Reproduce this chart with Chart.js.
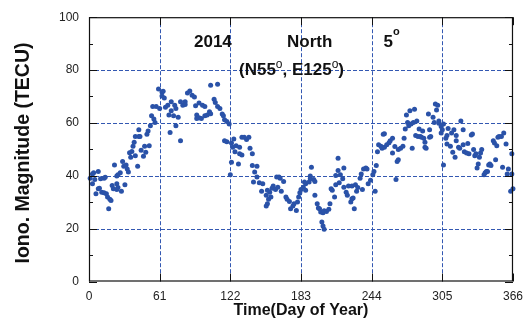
<!DOCTYPE html>
<html>
<head>
<meta charset="utf-8">
<script src="https://cdn.jsdelivr.net/npm/chart.js@4/dist/chart.umd.min.js"></script>
<style>
  html, body { margin: 0; padding: 0; background: #ffffff; }
  #wrap { width: 531px; height: 331px; }
</style>
</head>
<body>
<div id="wrap"><canvas id="c" width="531" height="331"></canvas></div>
<script>
// Daily ionospheric TEC magnitude, 2014, northern station (N55°, E125°), 5° elevation
const days = [
  1,3,4,8,3,5,10,13,14,6, 8,9,11,13,15,16,18,19,17,20, 21,24,25,24,28,31,22,24,25,27,
  29,30,32,33,34,42,35,36,37,38, 39,40,43,44,43,40,45,47,48,49, 50,51,52,53,54,56,57,55,58,60,
  61,63,63,64,65,66,68,69,70,71, 71,73,74,75,75,77,79,79,81,83, 83,85,87,
  89,91,92,95,98,100,93,93,95,97, 100,102,104,105,105,108,109,111,111,113,
  115,116,117,119,121,117,119,123,125,124, 126,127,130,132,134,136,138,130,132,139,
  141,123,129,122,141,145,143,145,142,147, 150,149,153,154,156,158,159,161,162,164,
  165,168,157,155,154,153,163,166,170,171, 173,174,176,177,179,
  180,181,182,183,185,186,187,187,190,191, 191,192,194,195,195,197,198,199,200,201,
  202,203,202,203,205,207,208,209,210,212, 213,213,215,215,216,217,219,220,220,222,
  223,224,226,227,228,227,229,230,231,232, 234,235,236,237,239,240,241,243,245,246,
  247,248,249,250,252,253,254,255,255,257, 259,260,262,262,264,265,266,267,
  267,269,271,272,273,274,275,276,277,278, 279,280,281,282,283,284,285,286,287,288,
  289,290,290,291,293,294,294,295,297,298, 299,300,301,302,302,304,304,305,306,306,
  308,309,309,310,312,313,314,315,316,317, 317,319,320,321,323,323,324,326,327,328,
  330,331,332,333,334,335,336,337,338,339, 341,342,343,344,345,346,347,349,350,351,
  352,353,354,356,357,358,360,361,362,364, 365,365,366
];
const tec = [
  39.1,40.7,41.1,41.6,37.0,38.6,38.9,39.1,39.4,33.2, 35.1,35.3,33.8,33.6,33.2,32.0,31.1,30.6,27.5,36.3,
  35.1,37.0,35.6,34.8,34.1,36.6,44.1,39.9,40.4,41.1, 45.4,43.6,44.1,42.6,41.4,43.6,48.7,47.0,49.2,51.2,
  52.7,54.9,54.9,54.9,57.4,47.6,49.7,47.4,51.2,48.9, 55.7,56.9,51.4,58.9,62.7,61.5,60.2,66.2,66.2,72.8,
  65.5,71.7,70.2,72.0,69.4,65.9,66.7,63.0,56.4,68.0, 64.6,62.7,66.7,65.5,58.9,62.1,68.0,53.3,66.7,68.0,
  67.0,71.3,72.1,
  70.5,69.8,66.5,67.5,66.7,66.2,63.0,61.7,62.0,61.7, 62.7,63.0,64.2,74.3,63.5,69.0,67.7,74.6,66.2,65.5,
  63.4,62.7,61.2,60.5,59.6,53.3,52.9,52.4,53.9,50.8, 49.1,51.4,50.8,54.6,54.6,53.7,54.6,48.3,47.9,50.4,
  48.3,45.1,44.5,40.4,43.9,43.6,41.4,39.5,37.6,37.4, 37.0,34.1,32.6,34.5,33.8,35.3,36.1,34.8,39.5,39.5,
  39.1,37.8,32.0,31.1,29.4,28.6,35.7,34.1,32.0,31.1, 30.3,27.5,28.6,29.4,26.9,
  30.1,32.0,33.6,34.8,35.7,37.6,37.0,34.5,37.6,39.9, 38.9,43.2,38.6,37.8,32.6,29.4,27.8,27.5,26.3,22.5,
  21.0,19.8,26.0,26.8,26.5,27.3,29.4,35.1,34.5,32.0, 36.6,40.1,42.0,46.6,37.4,40.4,38.9,42.9,35.7,33.8,
  32.6,36.1,30.1,31.3,31.6,36.1,27.5,36.6,34.1,35.6, 39.1,40.7,34.8,42.6,42.9,42.6,37.0,38.3,40.4,41.6,
  34.1,43.9,49.1,51.7,51.2,50.4,55.7,55.9,50.8,51.7, 52.5,53.3,54.2,48.6,51.1,38.6,45.4,46.1,
  49.9,50.4,51.2,54.2,57.7,63.0,60.2,58.9,64.6,59.6, 50.4,60.2,65.2,55.2,60.7,54.9,57.7,54.9,54.6,56.9,
  54.2,50.8,52.7,50.4,63.4,57.4,54.6,54.9,62.1,60.2, 67.2,64.9,66.7,60.7,59.9,58.6,56.2,57.4,59.6,44.1,
  54.2,55.2,52.0,57.9,51.2,56.2,48.9,57.4,47.0,55.2, 53.3,50.8,50.4,60.7,57.4,51.7,49.1,48.6,52.2,48.3,
  55.4,55.8,49.9,47.6,48.3,42.9,44.5,47.0,48.6,49.9, 40.4,41.1,41.6,41.6,44.1,44.5,43.9,53.3,52.4,46.1,
  51.4,54.6,54.9,54.9,43.2,56.2,52.0,40.7,42.6,34.1, 48.3,40.7,35.1
];

const xTicks = [0, 61, 122, 183, 244, 305, 366];
const yTicks = [0, 20, 40, 60, 80, 100];
const yMinorTicks = [10, 30, 50, 70, 90];

const FONT = '"Liberation Sans", Arial, Helvetica, sans-serif';
const DOT = '#2a52a8';
const GRID = '#3358b2';

const points = days.map((d, i) => ({ x: d, y: tec[i] }));

function seg(ctx, x1, y1, x2, y2) {
  ctx.beginPath(); ctx.moveTo(x1, y1); ctx.lineTo(x2, y2); ctx.stroke();
}

// text followed by raised small "o" marks (degree signs)
function supText(ctx, parts, x, y, mainFont, supFont, rise) {
  let cx = x;
  parts.forEach(p => {
    ctx.font = p.sup ? supFont : mainFont;
    ctx.fillText(p.t, cx, p.sup ? y - rise : y);
    cx += ctx.measureText(p.t).width;
  });
}

const decor = {
  id: 'decor',
  beforeDatasetsDraw(chart) {
    const { ctx, chartArea: a, scales: { x, y } } = chart;
    ctx.save();
    ctx.strokeStyle = GRID;
    ctx.lineWidth = 1;
    ctx.setLineDash([4, 2]);
    xTicks.slice(1, -1).forEach(v => {
      const px = Math.round(x.getPixelForValue(v)) + 0.5;
      seg(ctx, px, a.top, px, a.bottom);
    });
    yTicks.slice(1, -1).forEach(v => {
      const py = Math.round(y.getPixelForValue(v)) + 0.5;
      seg(ctx, a.left, py, a.right, py);
    });
    ctx.restore();
  },
  afterDraw(chart) {
    const { ctx, chartArea: a, scales: { x, y } } = chart;
    ctx.save();
    // frame
    ctx.strokeStyle = '#111';
    ctx.lineWidth = 1.2;
    ctx.strokeRect(a.left + 0.5, a.top + 0.5, a.right - a.left - 1, a.bottom - a.top - 1);
    // inward tick marks
    ctx.lineWidth = 1;
    yTicks.forEach(v => {
      const py = Math.round(y.getPixelForValue(v)) + 0.5;
      seg(ctx, a.left, py, a.left + 8, py);
      seg(ctx, a.right, py, a.right - 8, py);
    });
    yMinorTicks.forEach(v => {
      const py = Math.round(y.getPixelForValue(v)) + 0.5;
      seg(ctx, a.left, py, a.left + 4, py);
      seg(ctx, a.right, py, a.right - 4, py);
    });
    xTicks.forEach(v => {
      const px = Math.round(x.getPixelForValue(v)) + 0.5;
      seg(ctx, px, a.bottom, px, a.bottom - 8);
      seg(ctx, px, a.top, px, a.top + 8);
    });

    // axis titles
    ctx.fillStyle = '#111';
    ctx.textBaseline = 'alphabetic';
    ctx.textAlign = 'center';
    ctx.font = 'bold 16px ' + FONT;
    ctx.fillText('Time(Day of Year)', (a.left + a.right) / 2, 315);

    ctx.save();
    ctx.translate(29, 153);
    ctx.rotate(-Math.PI / 2);
    ctx.font = 'bold 19.5px ' + FONT;
    ctx.fillText('Iono. Magnitude (TECU)', 0, 0);
    ctx.restore();

    // annotations
    ctx.textAlign = 'left';
    const main = 'bold 17px ' + FONT;
    ctx.font = main;
    ctx.fillText('2014', 194, 47);
    ctx.fillText('North', 287, 47);
    supText(ctx, [{ t: '5' }, { t: 'o', sup: true }], 383.5, 47, main, 'bold 11px ' + FONT, 12);
    supText(ctx, [
      { t: '(N55' }, { t: 'o', sup: true }, { t: ', E125' }, { t: 'o', sup: true }, { t: ')' }
    ], 239, 75, main, '12px ' + FONT, 7);
    ctx.restore();
  }
};

new Chart(document.getElementById('c'), {
  type: 'scatter',
  data: {
    datasets: [{
      data: points,
      backgroundColor: DOT,
      borderWidth: 0,
      pointRadius: 2.5,
      pointHoverRadius: 2.5,
      clip: false
    }]
  },
  options: {
    responsive: false,
    devicePixelRatio: 1,
    animation: false,
    events: [],
    layout: { padding: { top: 16, right: 18, left: 0, bottom: 0 } },
    plugins: { legend: { display: false }, tooltip: { enabled: false } },
    scales: {
      x: {
        type: 'linear',
        min: 0, max: 366,
        afterBuildTicks: s => { s.ticks = xTicks.map(v => ({ value: v })); },
        afterFit: s => { s.height = 49.5; },
        grid: { display: false, drawTicks: false },
        border: { display: false },
        ticks: { padding: 8, color: '#222', font: { family: FONT, size: 12 }, maxRotation: 0, autoSkip: false }
      },
      y: {
        type: 'linear',
        min: 0, max: 100,
        afterBuildTicks: s => { s.ticks = yTicks.map(v => ({ value: v })); },
        afterFit: s => { s.width = 89; },
        grid: { display: false, drawTicks: false },
        border: { display: false },
        ticks: { padding: 10, color: '#222', font: { family: FONT, size: 12 } }
      }
    }
  },
  plugins: [decor]
});
</script>
</body>
</html>
